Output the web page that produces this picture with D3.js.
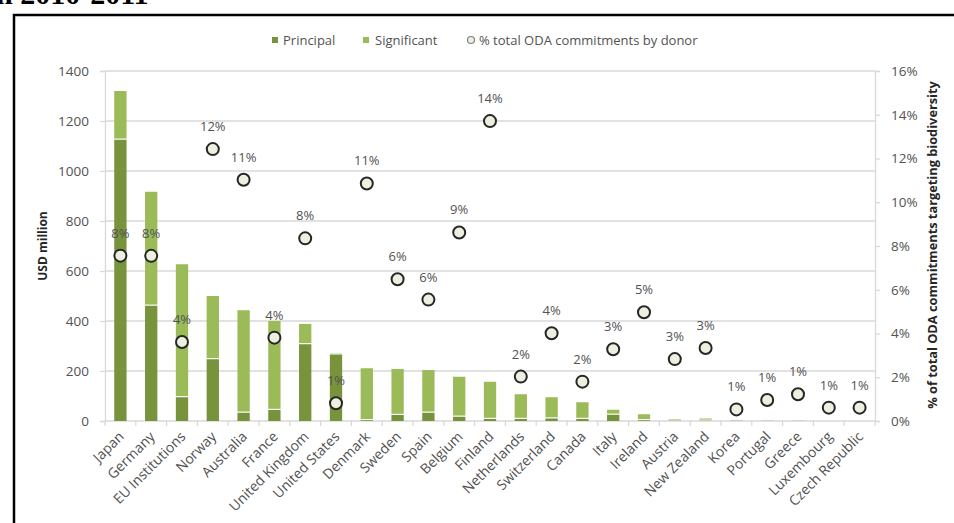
<!DOCTYPE html>
<html>
<head>
<meta charset="utf-8">
<script src="https://cdn.jsdelivr.net/npm/d3@7"></script>
<style>
  body { margin: 0; background: #fff; }
  text { font-family: "Open Sans", Lato, sans-serif; }
</style>
</head>
<body>
<div id="chart"></div>
<script>
var width = 954,
    height = 523;

// donors, ordered by total biodiversity-related aid
var donors = ["Japan", "Germany", "EU Institutions", "Norway", "Australia", "France",
  "United Kingdom", "United States", "Denmark", "Sweden", "Spain", "Belgium", "Finland",
  "Netherlands", "Switzerland", "Canada", "Italy", "Ireland", "Austria", "New Zealand",
  "Korea", "Portugal", "Greece", "Luxembourg", "Czech Republic"];

// USD million
var principal = [1125, 461, 95, 247, 33, 44, 307, 266, 3, 24, 33, 17, 8,
  8, 10, 8, 25, 3, 1, 1, 1, 0, 0, 0, 0];
var significant = [195, 456, 532, 253, 410, 356, 81, 6, 208, 184, 171, 160, 149,
  99, 85, 67, 20, 24, 7, 9, 2, 1, 1, 0, 0];

// % of total ODA commitments by donor
var share = [7.56, 7.55, 3.61, 12.43, 11.03, 3.81, 8.35, 0.81, 10.86, 6.48, 5.55, 8.62, 13.71,
  2.03, 4.01, 1.8, 3.28, 4.97, 2.83, 3.34, 0.53, 0.96, 1.22, 0.61, 0.61];

var leftTicks = [0, 200, 400, 600, 800, 1000, 1200, 1400];
var rightTicks = [0, 2, 4, 6, 8, 10, 12, 14, 16];

var cDark = "#77933c",
    cLight = "#9bbb59",
    cText = "#525252",
    cGrid = "#d9d9d9";

var svg = d3.select("#chart").append("svg")
    .attr("width", width)
    .attr("height", height);

// cut-off caption above the frame
svg.append("text")
    .attr("x", -4)
    .attr("y", 4)
    .style("font-family", "'Liberation Serif', serif")
    .style("font-weight", "bold")
    .style("font-size", "30px")
    .text("n 2010-2011");

// frame
svg.append("rect")
    .attr("x", 14).attr("y", 15)
    .attr("width", 1000).attr("height", 600)
    .attr("fill", "none")
    .attr("stroke", "#000")
    .attr("stroke-width", 2.5);

var x = d3.scaleBand()
    .domain(donors)
    .range([105, 875])
    .paddingInner(0.6)
    .paddingOuter(0.3);

var y = d3.scaleLinear().domain([0, 1400]).range([421, 71]);
var y2 = d3.scaleLinear().domain([0, 16]).range([421, 71]);

// gridlines
svg.append("g").selectAll("line")
    .data(leftTicks.slice(1))
    .enter().append("line")
    .attr("x1", 105).attr("x2", 875)
    .attr("y1", function (d) { return y(d); })
    .attr("y2", function (d) { return y(d); })
    .attr("stroke", cGrid)
    .attr("stroke-width", 1.3);

// left axis
var yAxis = svg.append("g")
    .attr("transform", "translate(105,0)")
    .call(d3.axisLeft(y).tickValues(leftTicks).tickSize(5).tickPadding(11)
      .tickFormat(d3.format("d")));
// right axis
var y2Axis = svg.append("g")
    .attr("transform", "translate(875,0)")
    .call(d3.axisRight(y2).tickValues(rightTicks).tickSize(5).tickPadding(11)
      .tickFormat(function (d) { return d + "%"; }));

[yAxis, y2Axis].forEach(function (g) {
    g.select(".domain").attr("stroke", cGrid).attr("stroke-width", 1.3);
    g.selectAll(".tick line").attr("stroke", cGrid).attr("stroke-width", 1.3);
    g.selectAll(".tick text")
        .attr("fill", cText)
        .style("font-size", "13.5px")
        .style("font-family", "'Open Sans', sans-serif");
});

// x axis baseline with ticks between categories
var xg = svg.append("g");
xg.append("line")
    .attr("x1", 105).attr("x2", 875)
    .attr("y1", y(0)).attr("y2", y(0))
    .attr("stroke", cGrid).attr("stroke-width", 1.3);
xg.selectAll(".xt")
    .data(d3.range(donors.length + 1))
    .enter().append("line")
    .attr("x1", function (i) { return 105 + i * 770 / donors.length; })
    .attr("x2", function (i) { return 105 + i * 770 / donors.length; })
    .attr("y1", y(0)).attr("y2", y(0) + 5)
    .attr("stroke", cGrid).attr("stroke-width", 1.3);

xg.selectAll(".xl")
    .data(donors)
    .enter().append("text")
    .attr("transform", function (d) {
        return "translate(" + (x(d) + x.bandwidth() / 2 + 1) + "," + (y(0) + 13) + ") rotate(-45)";
    })
    .attr("text-anchor", "end")
    .attr("dy", "0.35em")
    .attr("fill", cText)
    .style("font-size", "14px")
    .text(function (d) { return d; });

// stacked bars
var bars = svg.append("g");
bars.selectAll(".p")
    .data(donors)
    .enter().append("rect")
    .attr("x", function (d) { return x(d); })
    .attr("width", x.bandwidth())
    .attr("y", function (d, i) { return y(principal[i]); })
    .attr("height", function (d, i) { return y(0) - y(principal[i]); })
    .attr("fill", cDark);

bars.selectAll(".s")
    .data(donors)
    .enter().append("rect")
    .attr("x", function (d) { return x(d); })
    .attr("width", x.bandwidth())
    .attr("y", function (d, i) { return y(principal[i] + significant[i]); })
    .attr("height", function (d, i) {
        return Math.max(0, y(principal[i]) - y(principal[i] + significant[i]) - (principal[i] > 0 ? 1.2 : 0));
    })
    .attr("fill", cLight);

// share markers
var pts = svg.append("g");
pts.selectAll("circle")
    .data(donors)
    .enter().append("circle")
    .attr("cx", function (d) { return x(d) + x.bandwidth() / 2; })
    .attr("cy", function (d, i) { return y2(share[i]); })
    .attr("r", 6)
    .attr("fill", "#ebf1de")
    .attr("stroke", "#262626")
    .attr("stroke-width", 2);

pts.selectAll("text")
    .data(donors)
    .enter().append("text")
    .attr("x", function (d) { return x(d) + x.bandwidth() / 2; })
    .attr("y", function (d, i) { return y2(share[i]) - 18; })
    .attr("text-anchor", "middle")
    .attr("fill", cText)
    .style("font-size", "13px")
    .text(function (d, i) { return Math.round(share[i]) + "%"; });

// axis titles
svg.append("text")
    .attr("transform", "translate(47,246) rotate(-90)")
    .attr("text-anchor", "middle")
    .style("font-weight", "bold")
    .style("font-size", "12px")
    .attr("fill", "#262626")
    .text("USD million");

svg.append("text")
    .attr("transform", "translate(937,245) rotate(-90)")
    .attr("text-anchor", "middle")
    .style("font-weight", "bold")
    .style("font-size", "12.8px")
    .attr("fill", "#262626")
    .text("% of total ODA commitments targeting biodiversity");

// legend
var legend = svg.append("g").attr("transform", "translate(0,40)");
legend.append("rect").attr("x", 272).attr("y", -3).attr("width", 6).attr("height", 6).attr("fill", cDark);
legend.append("text").attr("x", 283).attr("y", 0).attr("dy", "0.35em")
    .attr("fill", cText).style("font-size", "13px").text("Principal");
legend.append("rect").attr("x", 363).attr("y", -3).attr("width", 6).attr("height", 6).attr("fill", cLight);
legend.append("text").attr("x", 375).attr("y", 0).attr("dy", "0.35em")
    .attr("fill", cText).style("font-size", "13px").text("Significant");
legend.append("circle").attr("cx", 471).attr("cy", 0).attr("r", 3.5)
    .attr("fill", "#ebf1de").attr("stroke", "#7f7f7f").attr("stroke-width", 1.2);
legend.append("text").attr("x", 479).attr("y", 0).attr("dy", "0.35em")
    .attr("fill", cText).style("font-size", "13px").text("% total ODA commitments by donor");
</script>
</body>
</html>
